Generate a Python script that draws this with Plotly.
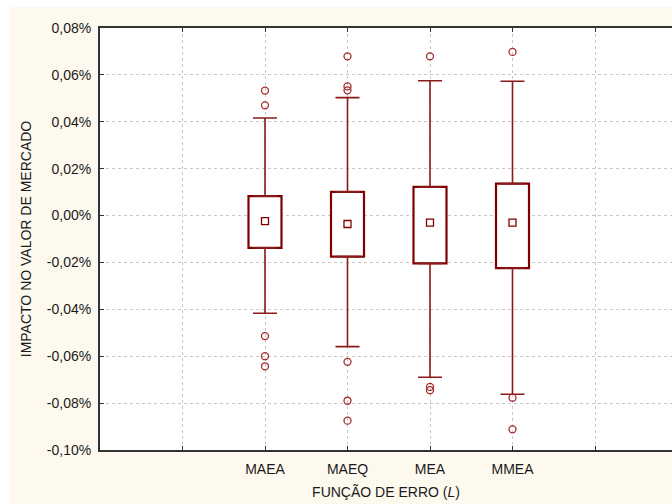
import plotly.graph_objects as go

# ---- data (values in %) ----
categories = ["MAEA", "MAEQ", "MEA", "MMEA"]
positions = [2, 3, 4, 5]
q1_values = [-0.0138, -0.0175, -0.0204, -0.0224]
q3_values = [0.0083, 0.0101, 0.0122, 0.0136]
median_values = [-0.0024, -0.0036, -0.0030, -0.0030]
lower_whisker = [-0.0417, -0.0559, -0.0690, -0.0762]
upper_whisker = [0.0416, 0.0503, 0.0575, 0.0573]
outliers_maea = [0.0533, 0.0470, -0.0514, -0.0600, -0.0643]
outliers_maeq = [0.0679, 0.0551, 0.0534, -0.0624, -0.0790, -0.0875]
outliers_mea = [0.0679, -0.0731, -0.0745]
outliers_mmea = [0.0698, -0.0777, -0.0912]
x_grid_positions = [1, 2, 3, 4, 5, 6]
x_tick_labels = [""] + categories + [""]
y_tick_values = [-0.10, -0.08, -0.06, -0.04, -0.02, 0.00, 0.02, 0.04, 0.06, 0.08]
y_tick_labels = ["-0,10%", "-0,08%", "-0,06%", "-0,04%", "-0,02%",
                 "0,00%", "0,02%", "0,04%", "0,06%", "0,08%"]

BOX = "#800000"
WHISK = "#8B1A1A"
OUT = "#A52A2A"

fig = go.Figure()

# boxes (interquartile range)
fig.add_trace(go.Bar(
    x=positions,
    y=[h - l for h, l in zip(q3_values, q1_values)],
    base=q1_values,
    width=0.4,
    marker=dict(color="white", line=dict(color=BOX, width=2.2)),
    showlegend=False, hoverinfo="skip",
))

# upper whiskers
fig.add_trace(go.Scatter(
    x=positions, y=q3_values, mode="markers",
    marker=dict(size=1, color="rgba(0,0,0,0)"),
    error_y=dict(type="data", symmetric=False,
                 array=[u - q for u, q in zip(upper_whisker, q3_values)],
                 arrayminus=[0] * len(positions),
                 width=12, thickness=1.6, color=WHISK),
    showlegend=False, hoverinfo="skip",
))
# lower whiskers
fig.add_trace(go.Scatter(
    x=positions, y=q1_values, mode="markers",
    marker=dict(size=1, color="rgba(0,0,0,0)"),
    error_y=dict(type="data", symmetric=False,
                 array=[0] * len(positions),
                 arrayminus=[q - l for q, l in zip(q1_values, lower_whisker)],
                 width=12, thickness=1.6, color=WHISK),
    showlegend=False, hoverinfo="skip",
))

# median markers
fig.add_trace(go.Scatter(
    x=positions, y=median_values, mode="markers",
    marker=dict(symbol="square-open", size=7, color=BOX, line=dict(width=1.3)),
    showlegend=False,
))

# outliers
for pos, vals in zip(positions, [outliers_maea, outliers_maeq, outliers_mea, outliers_mmea]):
    fig.add_trace(go.Scatter(
        x=[pos] * len(vals), y=vals, mode="markers",
        marker=dict(symbol="circle-open", size=7, color=OUT, line=dict(width=1.3)),
        showlegend=False,
    ))

CREAM = "#FEF9EF"
fig.update_layout(
    width=672, height=504,
    margin=dict(l=100, r=0, t=28, b=54, pad=0),
    paper_bgcolor=CREAM, plot_bgcolor="white",
    font=dict(family="Liberation Sans, Arial, sans-serif", size=14, color="#1a1a1a"),
    shapes=[
        dict(type="rect", xref="paper", yref="paper", x0=-0.2, x1=1.1,
             y0=(450 - 7) / 422, y1=1.2, fillcolor="white", line=dict(width=0), layer="below"),
        dict(type="rect", xref="paper", yref="paper", x0=-0.2, x1=-90 / 572,
             y0=-0.2, y1=1.2, fillcolor="white", line=dict(width=0), layer="below"),
    ],
)
fig.update_xaxes(
    range=[0, 572 / 82.5],
    tickmode="array", tickvals=x_grid_positions, ticktext=x_tick_labels,
    showgrid=True, gridcolor="#c8c8c8", griddash="dot", gridwidth=1,
    showline=True, linecolor="#333333", linewidth=2, mirror="ticks",
    ticks="inside", ticklen=4, tickcolor="#333333", tickwidth=1,
    zeroline=False, ticklabelstandoff=5,
    title=dict(text="FUNÇÃO DE ERRO (<i>L</i>)", font=dict(size=14), standoff=11),
)
fig.update_yaxes(
    range=[-0.10, 0.08],
    tickmode="array", tickvals=y_tick_values, ticktext=y_tick_labels,
    showgrid=True, gridcolor="#c8c8c8", griddash="dot", gridwidth=1,
    showline=True, linecolor="#333333", linewidth=2, mirror=False,
    ticks="inside", ticklen=4, tickcolor="#333333", tickwidth=1,
    zeroline=False, ticklabelstandoff=4,
    title=dict(text="IMPACTO NO VALOR DE MERCADO", font=dict(size=14), standoff=12),
)

fig.write_html(
    "out.html",
    config={"displayModeBar": False},
    post_script="document.body.style.margin='0';document.body.style.overflow='hidden';",
)
